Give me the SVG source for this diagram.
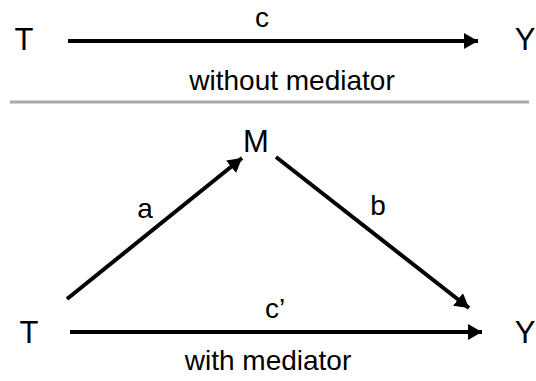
<svg xmlns="http://www.w3.org/2000/svg" width="536" height="381" viewBox="0 0 536 381">
<style>
text{font-family:"Liberation Sans",Arial,sans-serif;fill:#000;text-anchor:middle}
.n{font-size:31px}
.l{font-size:28px}
.e{stroke:#000;stroke-width:4;fill:none}
</style>
<defs>
<marker id="ah" markerWidth="4" markerHeight="4" refX="3.5" refY="2" orient="auto" markerUnits="strokeWidth">
<path d="M0,0 L3.5,2 L0,4 Z" fill="#000"/>
</marker>
</defs>
<g id="T1"><text class="n" x="24" y="50">T</text></g>
<g id="Y1"><text class="n" x="525" y="50">Y</text></g>
<g id="M"><text class="n" x="256" y="152">M</text></g>
<g id="T2"><text class="n" x="29" y="343">T</text></g>
<g id="Y2"><text class="n" x="525" y="343">Y</text></g>
<g id="connectors">
<line class="e" x1="68" y1="41" x2="478" y2="41" marker-end="url(#ah)"/>
<line class="e" x1="67" y1="299" x2="242" y2="158" marker-end="url(#ah)"/>
<line class="e" x1="276" y1="157" x2="469" y2="308" marker-end="url(#ah)"/>
<line class="e" x1="70" y1="332" x2="482" y2="332" marker-end="url(#ah)"/>
</g>
<line x1="10" y1="102" x2="529" y2="102" stroke="#aaa" stroke-width="3"/>
<text class="l" x="262" y="27">c</text>
<text class="l" x="292" y="90">without mediator</text>
<text class="l" x="145" y="218">a</text>
<text class="l" x="378" y="215">b</text>
<text class="l" x="275" y="318">c’</text>
<text class="l" x="268" y="370">with mediator</text>
</svg>
